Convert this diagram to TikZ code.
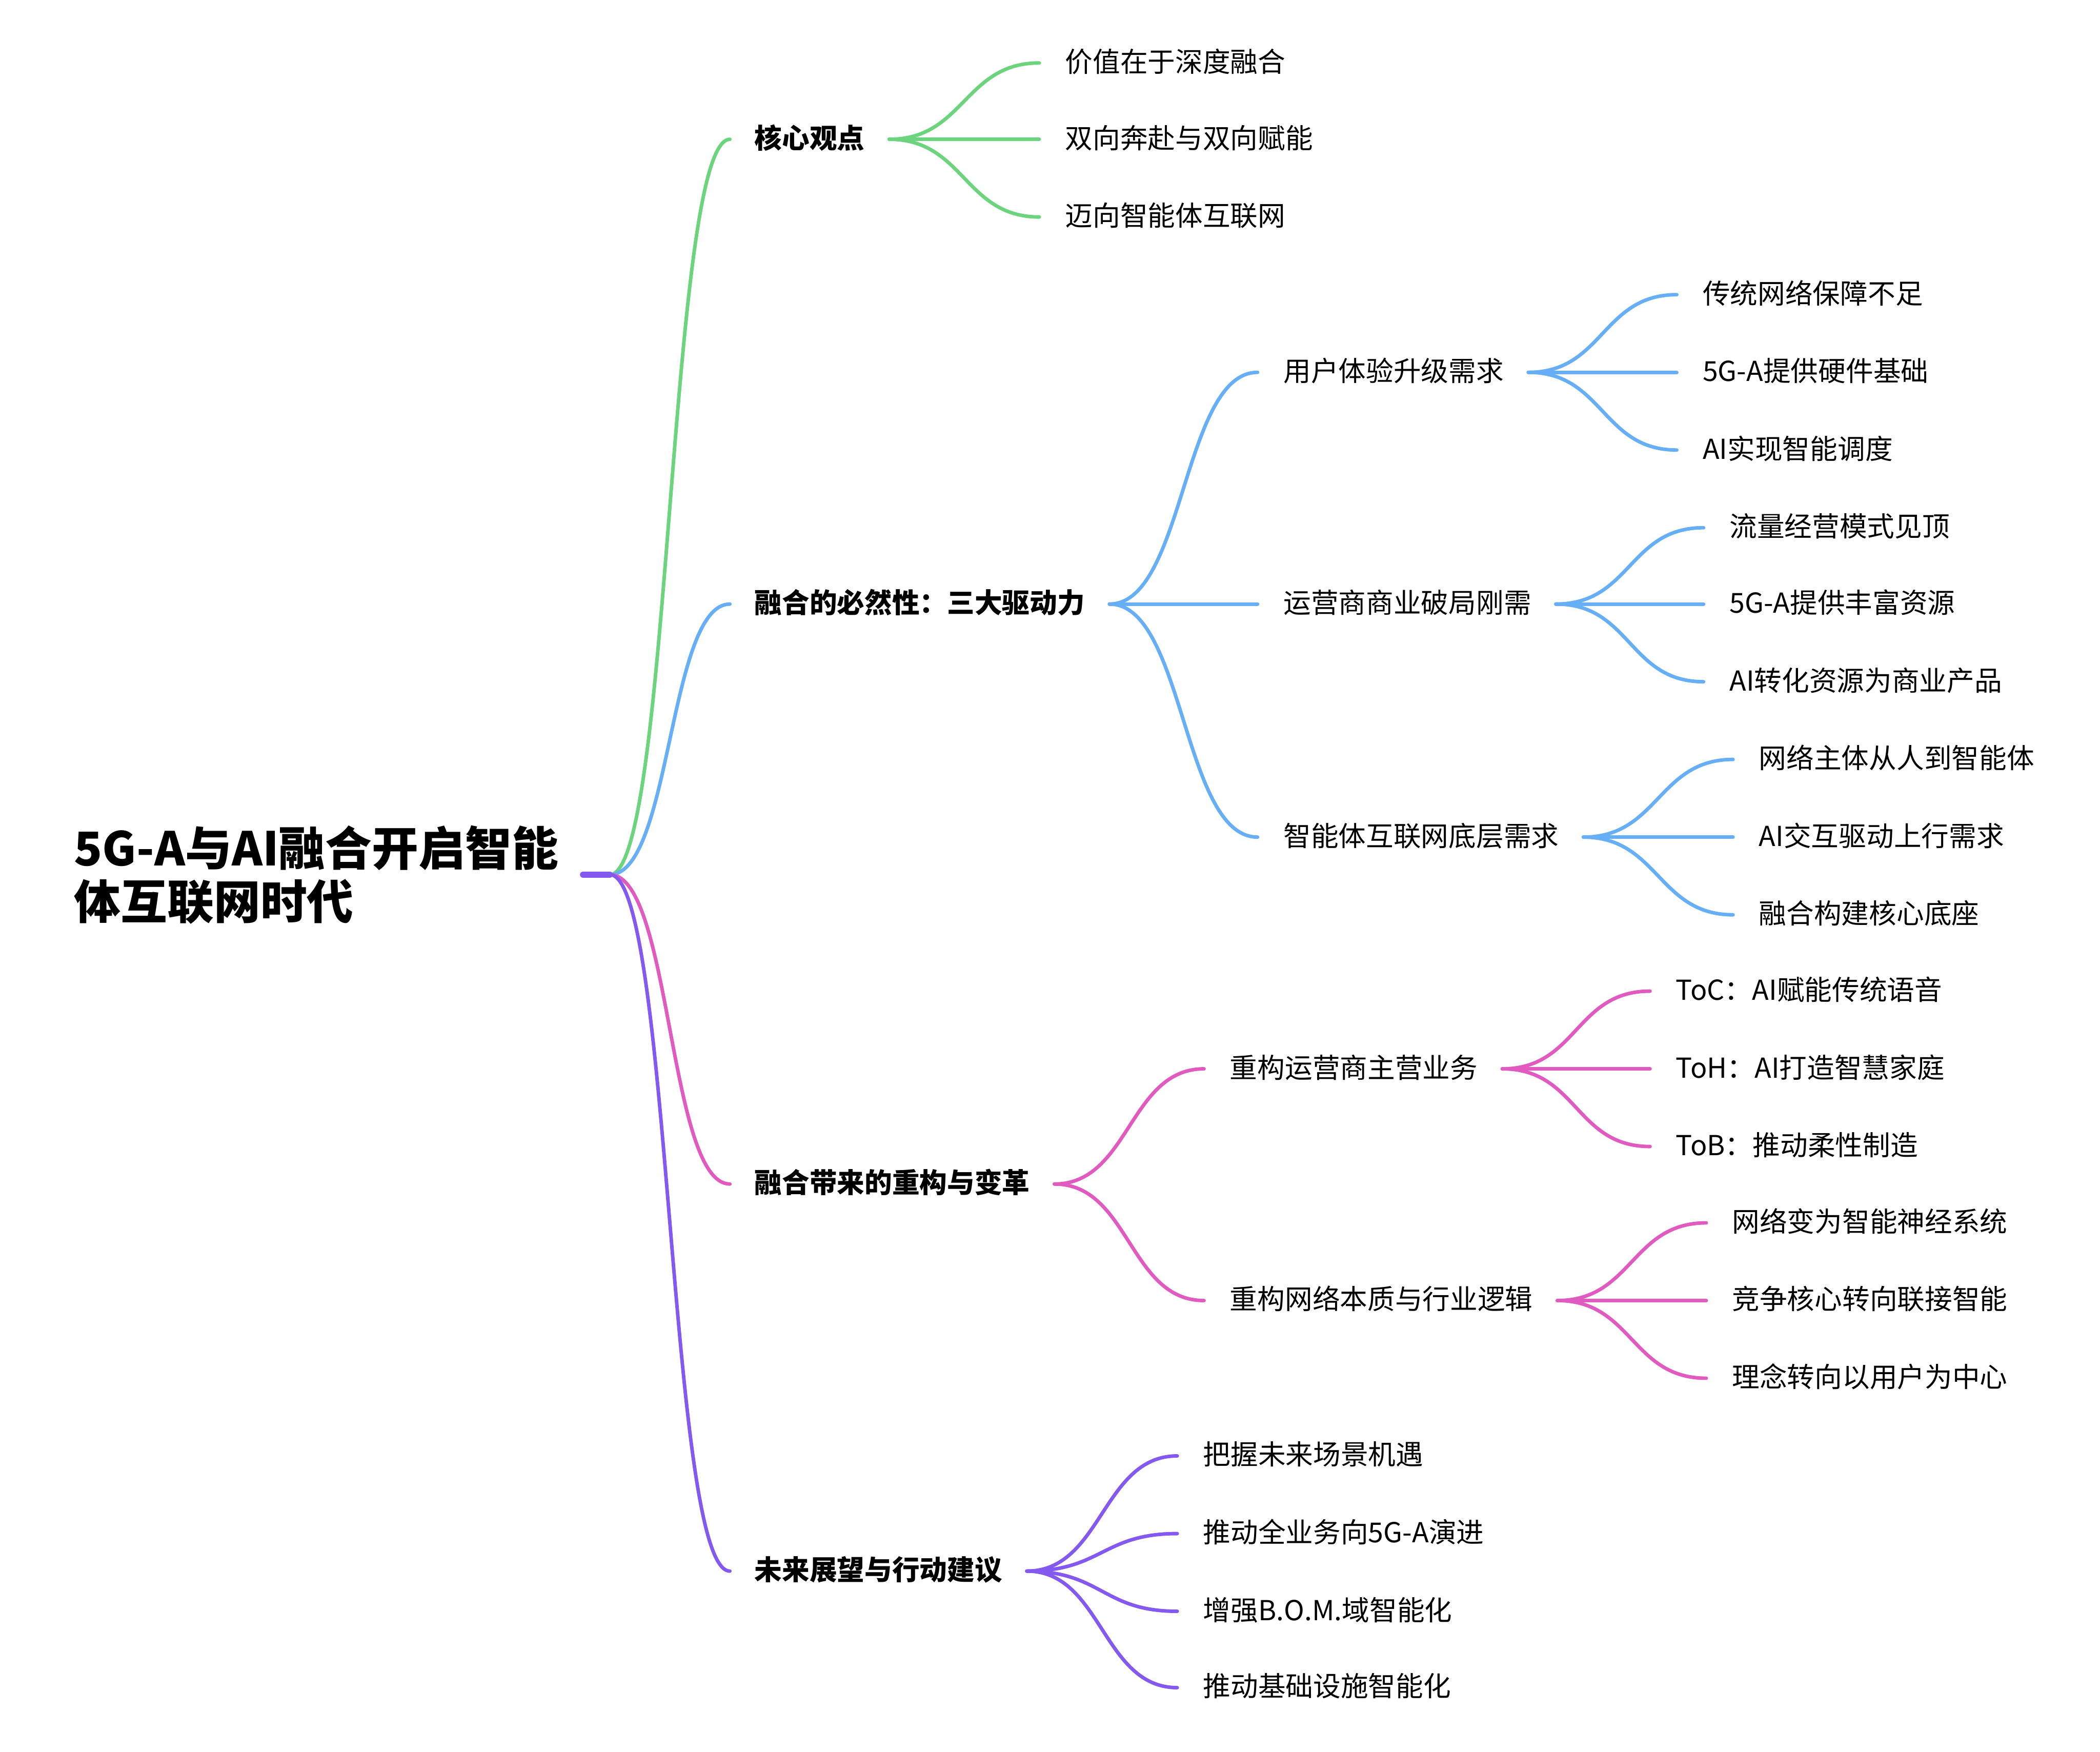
\documentclass[tikz,border=0pt]{standalone}
\usepackage{fontspec}
\setmainfont{Noto Sans CJK SC}
\usetikzlibrary{
    positioning,
    calc
}
\definecolor{VerdeRamo}{HTML}{6CD47C}
\definecolor{AzulRamo}{HTML}{66AEF6}
\definecolor{RosaRamo}{HTML}{E05ABF}
\definecolor{RoxoRamo}{HTML}{8459F0}

\begin{document}
\begin{tikzpicture}[
    x=0.02cm, y=-0.02cm,
    folha/.style={anchor=west, inner sep=0pt, text height=.88em, text depth=.12em,
        font=\fontsize{11.7}{14}\selectfont},
    tema/.style={folha, font=\fontsize{11.7}{14}\selectfont\bfseries},
    ramo/.style={line width=1.5pt, line cap=round}
]
    \useasboundingbox (0,0) rectangle (1568,1308);

    % raiz
    \node[anchor=west, inner sep=0pt, align=left,
        font=\fontsize{19.8}{22.7}\selectfont\bfseries] (raiz) at (55,653)
        {5G-A与AI融合开启智能\\体互联网时代};

    % temas
    \node[tema] (nucleo) at (563,104) {核心观点};
    \node[tema] (motor) at (563,451) {融合的必然性：三大驱动力};
    \node[tema] (mudanca) at (563,884) {融合带来的重构与变革};
    \node[tema] (futuro) at (563,1173) {未来展望与行动建议};

    %核心观点
    \node[folha] (n1) at (795,47) {价值在于深度融合};
    \node[folha] (n2) at (795,104) {双向奔赴与双向赋能};
    \node[folha] (n3) at (795,162) {迈向智能体互联网};

    % 三大驱动力
    \node[folha] (m1) at (958,278) {用户体验升级需求};
    \node[folha] (m2) at (958,451) {运营商商业破局刚需};
    \node[folha] (m3) at (958,625) {智能体互联网底层需求};

    \node[folha] (m11) at (1271,220) {传统网络保障不足};
    \node[folha] (m12) at (1271,278) {5G-A提供硬件基础};
    \node[folha] (m13) at (1271,336) {AI实现智能调度};

    \node[folha] (m21) at (1291,394) {流量经营模式见顶};
    \node[folha] (m22) at (1291,451) {5G-A提供丰富资源};
    \node[folha] (m23) at (1291,509) {AI转化资源为商业产品};

    \node[folha] (m31) at (1313,567) {网络主体从人到智能体};
    \node[folha] (m32) at (1313,625) {AI交互驱动上行需求};
    \node[folha] (m33) at (1313,683) {融合构建核心底座};

    % 重构与变革
    \node[folha] (r1) at (918,798) {重构运营商主营业务};
    \node[folha] (r2) at (918,971) {重构网络本质与行业逻辑};

    \node[folha] (r11) at (1251,740) {ToC：AI赋能传统语音};
    \node[folha] (r12) at (1251,798) {ToH：AI打造智慧家庭};
    \node[folha] (r13) at (1251,856) {ToB：推动柔性制造};

    \node[folha] (r21) at (1293,913) {网络变为智能神经系统};
    \node[folha] (r22) at (1293,971) {竞争核心转向联接智能};
    \node[folha] (r23) at (1293,1029) {理念转向以用户为中心};

    % 行动建议
    \node[folha] (f1) at (898,1087) {把握未来场景机遇};
    \node[folha] (f2) at (898,1145) {推动全业务向5G-A演进};
    \node[folha] (f3) at (898,1203) {增强B.O.M.域智能化};
    \node[folha] (f4) at (898,1260) {推动基础设施智能化};

    % tronco
    \coordinate (tronco) at ([xshift=.36cm]raiz.east);
    \coordinate (ponta) at ([xshift=.76cm]raiz.east);
    \draw[ramo, VerdeRamo] (ponta) .. controls +(46,0) and +(-46,0) .. ([xshift=-.36cm]nucleo.west);
    \draw[ramo, AzulRamo] (ponta) .. controls +(46,0) and +(-46,0) .. ([xshift=-.36cm]motor.west);
    \draw[ramo, RosaRamo] (ponta) .. controls +(46,0) and +(-46,0) .. ([xshift=-.36cm]mudanca.west);
    \draw[ramo, RoxoRamo] (ponta) .. controls +(46,0) and +(-46,0) .. ([xshift=-.36cm]futuro.west);
    \draw[ramo, RoxoRamo, line width=2.6pt] (tronco) -- (ponta);

    % ramos
    \foreach \a/\b in {nucleo/n1, nucleo/n2, nucleo/n3}
        \draw[ramo, VerdeRamo] ([xshift=.36cm]\a.east) .. controls +(56,0) and +(-56,0) .. ([xshift=-.38cm]\b.west);
    \foreach \a/\b in {motor/m1, motor/m2, motor/m3, m1/m11, m1/m12, m1/m13,
            m2/m21, m2/m22, m2/m23, m3/m31, m3/m32, m3/m33}
        \draw[ramo, AzulRamo] ([xshift=.36cm]\a.east) .. controls +(56,0) and +(-56,0) .. ([xshift=-.38cm]\b.west);
    \foreach \a/\b in {mudanca/r1, mudanca/r2, r1/r11, r1/r12, r1/r13,
            r2/r21, r2/r22, r2/r23}
        \draw[ramo, RosaRamo] ([xshift=.36cm]\a.east) .. controls +(56,0) and +(-56,0) .. ([xshift=-.38cm]\b.west);
    \foreach \a/\b in {futuro/f1, futuro/f2, futuro/f3, futuro/f4}
        \draw[ramo, RoxoRamo] ([xshift=.36cm]\a.east) .. controls +(56,0) and +(-56,0) .. ([xshift=-.38cm]\b.west);

\end{tikzpicture}
\end{document}
